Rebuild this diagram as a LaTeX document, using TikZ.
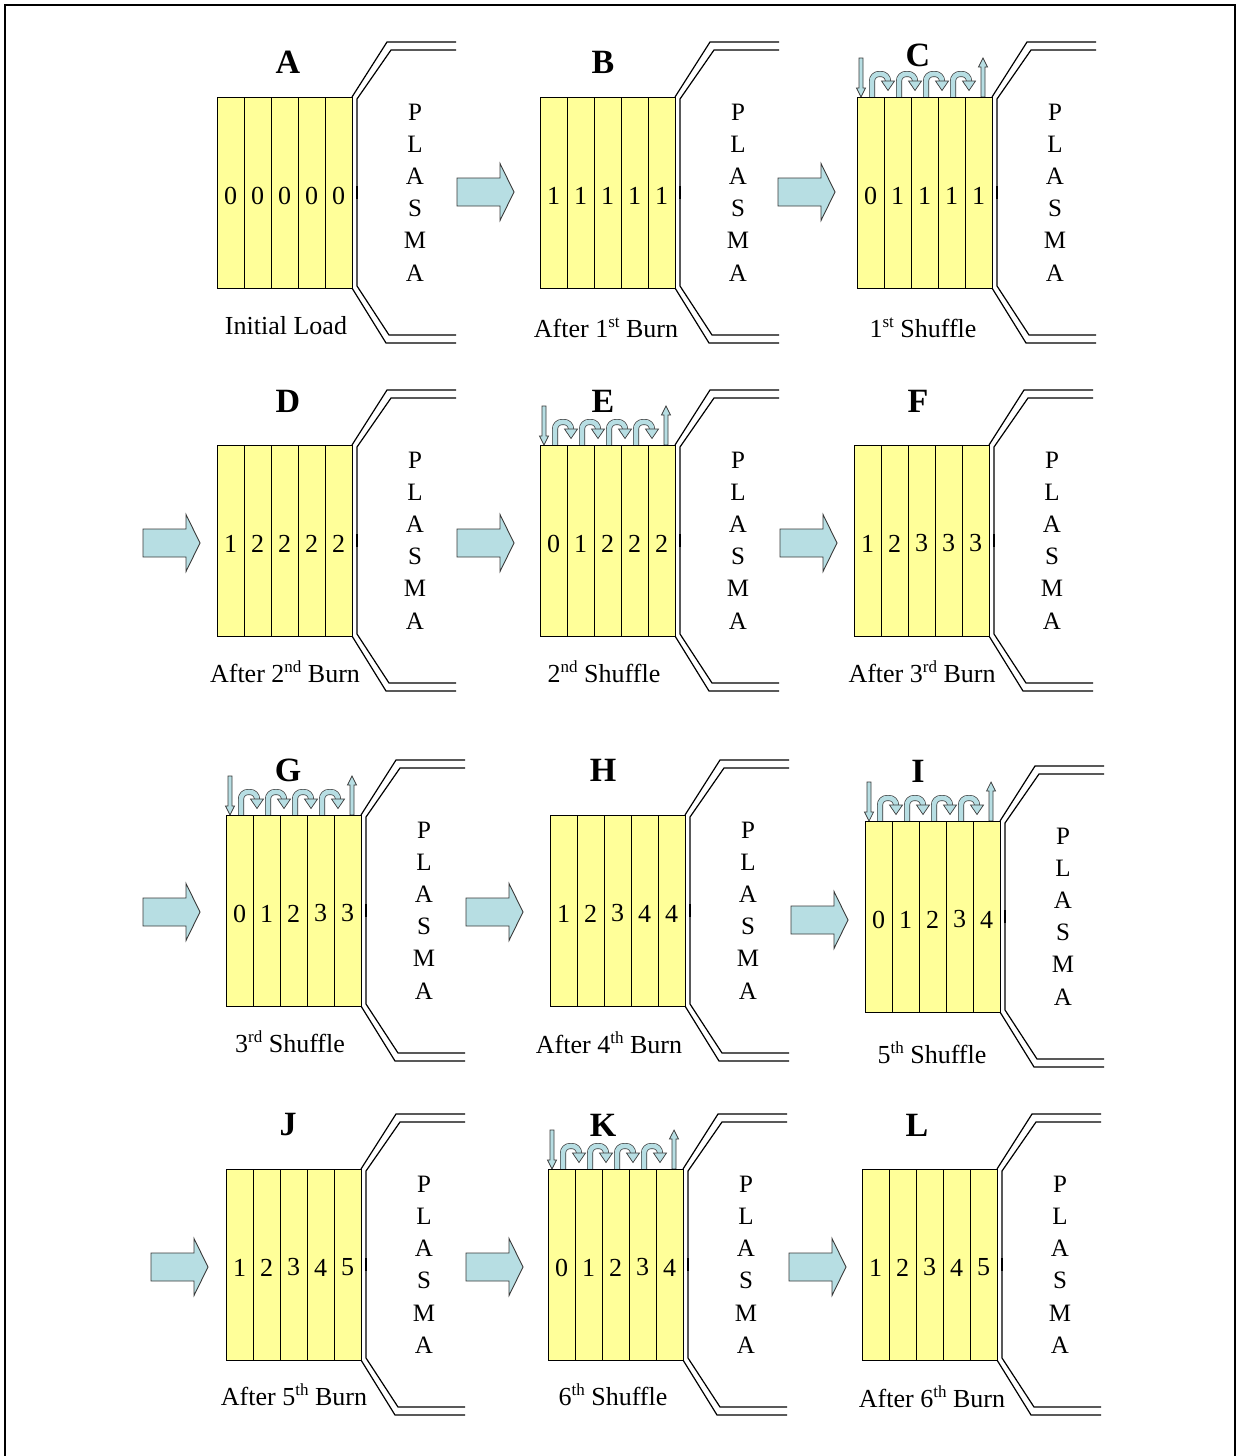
\documentclass[tikz,border=0pt]{standalone}
\usepackage{fontspec}
\setmainfont{Liberation Serif}
\definecolor{cellyellow}{HTML}{FFFF99}
\definecolor{arrowblue}{HTML}{B7DEE3}
\definecolor{arrowline}{HTML}{3A3A3A}
\newcommand\sups[1]{\raisebox{0.4em}{\fontsize{17}{17}\selectfont #1}}
\tikzset{
  cell/.style={draw=black, line width=0.9pt, fill=cellyellow, minimum width=27pt, minimum height=191pt, inner sep=0pt},
  digit/.style={font=\fontsize{26}{26}\selectfont, inner sep=0pt},
  plasmaletter/.style={font=\fontsize{25}{25}\selectfont, inner sep=0pt},
  paneltitle/.style={font=\fontsize{34}{34}\selectfont\bfseries, inner sep=0pt},
  panelcaption/.style={font=\fontsize{26}{26}\selectfont, inner sep=0pt},
  wall/.style={line width=1.2pt, draw=black},
  blockarrow/.style={draw=arrowline, fill=arrowblue, line width=0.9pt, line join=miter},
  thinarrow/.style={draw=arrowline, fill=arrowblue, line width=0.7pt, line join=miter},
  hookline/.style={draw=arrowline, double=arrowblue, double distance=4.6pt, line width=0.7pt, rounded corners=7pt},
}
\newcommand\blockarr[2]{%
  \draw[blockarrow] (#1,#2-14) -- (#1+43,#2-14) -- (#1+43,#2-28.5) -- (#1+57,#2) -- (#1+43,#2+28.5) -- (#1+43,#2+14) -- (#1,#2+14) -- cycle;}
\newcommand\fuelpanel[8]{%
  \begin{scope}[shift={(#2,#3)}]
    \foreach \d [count=\k from 0] in {#4,#5,#6,#7,#8} {
      \node[cell] (#1c\k) at ({13.5+27*\k},95.5) {};
      \node[digit] (#1d\k) at ({13.5+27*\k},98.5) {\d};
    }
    \draw[wall] (135,0) -- (170,-55) -- (239,-55);
    \draw[wall] (239,-47) -- (174,-47) -- (140,2) -- (140,189) -- (172,238) -- (239,238);
    \draw[wall] (135,191) -- (169,246) -- (239,246);
    \draw[line width=2pt] (140,89) -- (140,102);
    \foreach \l [count=\k from 0] in {P,L,A,S,M,A}
      \node[plasmaletter] (#1p\k) at (198,{15+32.2*\k}) {\l};
  \end{scope}}
\newcommand\shufflearr[2]{%
  \begin{scope}[shift={(#1,#2)}]
    \draw[thinarrow] (2,-39) -- (6,-39) -- (6,-9) -- (8.5,-9) -- (4,0) -- (-0.5,-9) -- (2,-9) -- cycle;
    \draw[thinarrow] (124,0) -- (128,0) -- (128,-30) -- (130.5,-30) -- (126,-39) -- (121.5,-30) -- (124,-30) -- cycle;
    \foreach \i in {0,...,3} {
      \draw[hookline] ({15+27*\i},0) -- ({15+27*\i},-23) -- ({31+27*\i},-23) -- ({31+27*\i},-15.5);
      \draw[thinarrow] ({24.5+27*\i},-16) -- ({37.5+27*\i},-16) -- ({31+27*\i},-6.5) -- cycle;
    }
  \end{scope}}
\begin{document}
\begin{tikzpicture}[x=1pt,y=-1pt]
\useasboundingbox (0,0) rectangle (1236,1456);
\draw[line width=2.2pt] (5,1460) -- (5,5) -- (1235,5) -- (1235,1460);
% shuffle arrows (behind boxes)
\shufflearr{857}{97}
\shufflearr{540}{445}
\shufflearr{226}{815}
\shufflearr{865}{821}
\shufflearr{548}{1169}
% panels
\fuelpanel{A}{217}{97}{0}{0}{0}{0}{0}
\fuelpanel{B}{540}{97}{1}{1}{1}{1}{1}
\fuelpanel{C}{857}{97}{0}{1}{1}{1}{1}
\fuelpanel{D}{217}{445}{1}{2}{2}{2}{2}
\fuelpanel{E}{540}{445}{0}{1}{2}{2}{2}
\fuelpanel{F}{854}{445}{1}{2}{3}{3}{3}
\fuelpanel{G}{226}{815}{0}{1}{2}{3}{3}
\fuelpanel{H}{550}{815}{1}{2}{3}{4}{4}
\fuelpanel{I}{865}{821}{0}{1}{2}{3}{4}
\fuelpanel{J}{226}{1169}{1}{2}{3}{4}{5}
\fuelpanel{K}{548}{1169}{0}{1}{2}{3}{4}
\fuelpanel{L}{862}{1169}{1}{2}{3}{4}{5}
% titles
\node[paneltitle] (tA) at (288,62) {A};
\node[paneltitle] (tB) at (603,62) {B};
\node[paneltitle] (tC) at (918,55) {C};
\node[paneltitle] (tD) at (288,401) {D};
\node[paneltitle] (tE) at (603,401) {E};
\node[paneltitle] (tF) at (918,401) {F};
\node[paneltitle] (tG) at (288,770) {G};
\node[paneltitle] (tH) at (603,770) {H};
\node[paneltitle] (tI) at (918,771) {I};
\node[paneltitle] (tJ) at (288,1125) {J};
\node[paneltitle] (tK) at (603,1125) {K};
\node[paneltitle] (tL) at (917,1125) {L};
% captions
\node[panelcaption] (capA) at (286,326) {Initial Load};
\node[panelcaption] (capB) at (606,328) {After 1\sups{st} Burn};
\node[panelcaption] (capC) at (923,328) {1\sups{st} Shuffle};
\node[panelcaption] (capD) at (285,672) {After 2\sups{nd} Burn};
\node[panelcaption] (capE) at (604,672) {2\sups{nd} Shuffle};
\node[panelcaption] (capF) at (922,672) {After 3\sups{rd} Burn};
\node[panelcaption] (capG) at (290,1042) {3\sups{rd} Shuffle};
\node[panelcaption] (capH) at (609,1043) {After 4\sups{th} Burn};
\node[panelcaption] (capI) at (932,1053) {5\sups{th} Shuffle};
\node[panelcaption] (capJ) at (294,1395) {After 5\sups{th} Burn};
\node[panelcaption] (capK) at (613,1395) {6\sups{th} Shuffle};
\node[panelcaption] (capL) at (932,1397) {After 6\sups{th} Burn};
% block arrows
\blockarr{457}{192}
\blockarr{778}{192}
\blockarr{143}{543}
\blockarr{457}{543}
\blockarr{780}{543}
\blockarr{143}{912}
\blockarr{466}{912}
\blockarr{791}{920}
\blockarr{151}{1267}
\blockarr{466}{1267}
\blockarr{789}{1267}
\end{tikzpicture}
\end{document}
